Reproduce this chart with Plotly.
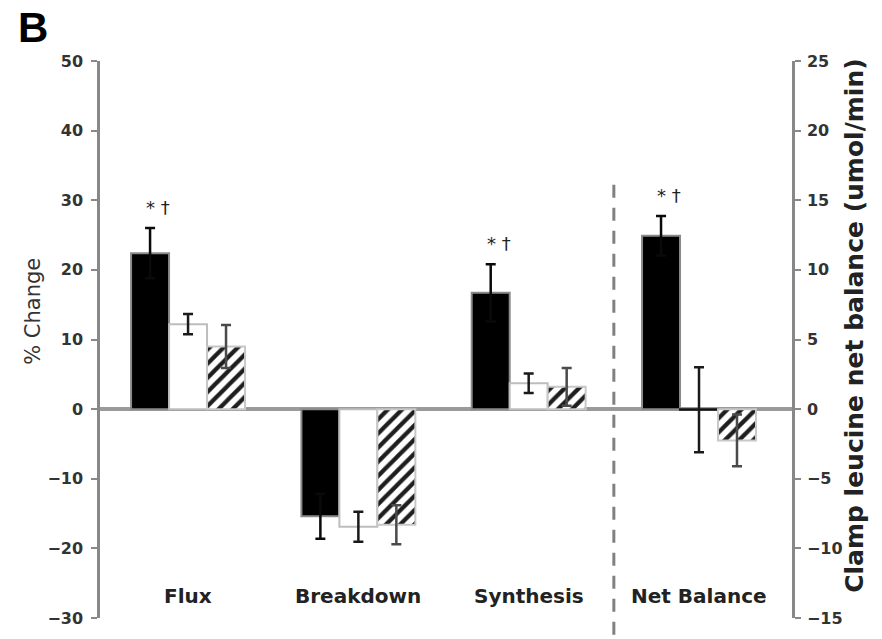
import plotly.graph_objects as go

# ---- data ----
categories = ["Flux", "Breakdown", "Synthesis", "Net Balance"]
pct_categories = categories[:3]
net_category = categories[3:]

black_pct = [22.4, -15.4, 16.7]
black_pct_err = [3.6, 3.2, 4.1]
white_pct = [12.2, -16.9, 3.7]
white_pct_err = [1.45, 2.15, 1.4]
hatch_pct = [9.0, -16.6, 3.2]
hatch_pct_err = [3.1, 2.8, 2.7]

# Net balance (umol/min, right axis): black, white, hatched
net_balance = [12.45, -0.05, -2.25]
net_balance_err = [1.42, 3.05, 1.86]

left_ticks = [-30, -20, -10, 0, 10, 20, 30, 40, 50]
right_ticks = [-15, -10, -5, 0, 5, 10, 15, 20, 25]
sig_text = "* \u2020"
sig_categories = ["Flux", "Synthesis", "Net Balance"]

# ---- style ----
BW = 0.223
offsets = [-1.5 * BW, -0.5 * BW, 0.5 * BW]
FONT = "DejaVu Sans"
AX = "#888888"

fig = go.Figure()

hatch = dict(shape="/", fgcolor="#1e1e1e", fgopacity=1, bgcolor="white", size=10, solidity=0.42)
series = [
    dict(vals=black_pct, err=black_pct_err, nb=net_balance[0], nbe=net_balance_err[0],
         fill="black", line="#8a8a8a", errc="#0a0a0a", pattern=None, nbline="#8a8a8a"),
    dict(vals=white_pct, err=white_pct_err, nb=net_balance[1], nbe=net_balance_err[1],
         fill="white", line="#bdbdbd", errc="#1a1a1a", pattern=None, nbline="#111111"),
    dict(vals=hatch_pct, err=hatch_pct_err, nb=net_balance[2], nbe=net_balance_err[2],
         fill="white", line="#c8c8c8", errc="#4a4a4a", pattern=hatch, nbline="#c8c8c8"),
]

for i, s in enumerate(series):
    marker = dict(color=s["fill"], line=dict(color=s["line"], width=2))
    if s["pattern"]:
        marker["pattern"] = s["pattern"]
    fig.add_trace(go.Bar(
        x=pct_categories, y=s["vals"], width=BW, offset=offsets[i],
        marker=marker, yaxis="y",
        error_y=dict(type="data", array=s["err"], color=s["errc"], thickness=2.5, width=5),
        showlegend=False,
    ))
    marker2 = dict(color=s["fill"], line=dict(color=s["nbline"], width=2))
    if s["pattern"]:
        marker2["pattern"] = s["pattern"]
    fig.add_trace(go.Bar(
        x=net_category, y=[s["nb"]], width=BW, offset=offsets[i],
        marker=marker2, yaxis="y2",
        error_y=dict(type="data", array=[s["nbe"]], color=s["errc"], thickness=2.5, width=5),
        showlegend=False,
    ))

annotations = []
# significance markers above black bars
for c in sig_categories:
    idx = categories.index(c)
    if c == "Net Balance":
        yv = net_balance[0] + net_balance_err[0]
        yref = "y2"
    else:
        j = pct_categories.index(c)
        yv = black_pct[j] + black_pct_err[j]
        yref = "y"
    annotations.append(dict(
        x=idx + offsets[0] + BW / 2, y=yv, xref="x", yref=yref, text=sig_text,
        showarrow=False, xanchor="center", yanchor="bottom", xshift=8, yshift=8,
        font=dict(family=FONT, size=18, color="#222222"),
    ))

# category labels inside the plot, near the bottom
for i, c in enumerate(categories):
    annotations.append(dict(
        x=i, y=-26.9, xref="x", yref="y", text=c, showarrow=False,
        font=dict(family=FONT, size=20, color="#222222", weight="bold"),
        xanchor="center", yanchor="middle",
    ))

# axis titles and panel letter
annotations.append(dict(
    x=-0.098, y=0.55, xref="paper", yref="paper", text="% Change", textangle=-90,
    showarrow=False, xanchor="center", yanchor="middle",
    font=dict(family=FONT, size=21, color="#333333"),
))
annotations.append(dict(
    x=1.09, y=0.525, xref="paper", yref="paper",
    text="Clamp leucine net balance (umol/min)", textangle=-90,
    showarrow=False, xanchor="center", yanchor="middle",
    font=dict(family=FONT, size=25, color="#222222", weight="bold"),
))
annotations.append(dict(
    x=-0.097, y=1.0, xref="paper", yref="paper", text="B",
    showarrow=False, xanchor="center", yanchor="top", yshift=59,
    font=dict(family="Liberation Sans", size=42, color="black", weight="bold"),
))

shapes = [dict(
    type="line", xref="x", yref="paper", x0=2.5, x1=2.5, y0=-0.03, y1=0.79,
    line=dict(color="#808080", width=3, dash="13px,10px"),
)]

tickfont = dict(family=FONT, size=16, color="#333333", weight="bold")

fig.update_layout(
    width=882, height=639,
    margin=dict(l=100, r=90, t=61, b=11),
    paper_bgcolor="white", plot_bgcolor="white",
    barmode="overlay",
    xaxis=dict(type="category", categoryorder="array", categoryarray=categories,
               range=[-0.517, 3.546], showticklabels=False, showline=False,
               ticks="", showgrid=False, zeroline=False),
    yaxis=dict(range=[-30, 50], tickvals=left_ticks, ticks="outside", ticklen=6,
               tickwidth=2, tickcolor=AX, showline=True, linecolor=AX, linewidth=2.5,
               showgrid=False, zeroline=True, zerolinecolor="#9a9a9a", zerolinewidth=3.5,
               tickfont=tickfont, ticklabelstandoff=5),
    yaxis2=dict(range=[-15, 25], tickvals=right_ticks, overlaying="y", side="right",
                ticks="outside", ticklen=6, tickwidth=2, tickcolor=AX, showline=True,
                linecolor=AX, linewidth=2.5, showgrid=False, zeroline=False,
                tickfont=tickfont, ticklabelstandoff=3),
    annotations=annotations,
    shapes=shapes,
)

fig.write_html("out.html")
